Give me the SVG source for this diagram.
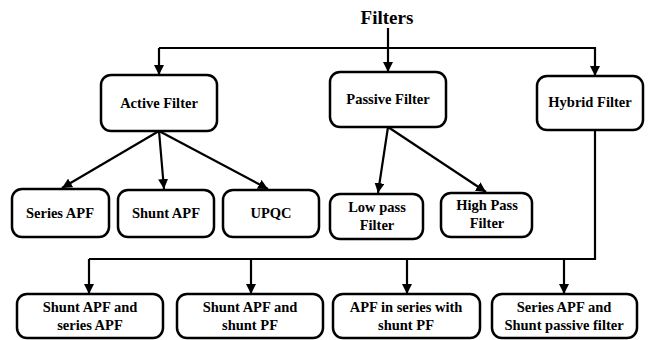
<svg xmlns="http://www.w3.org/2000/svg" width="649" height="340" viewBox="0 0 649 340">
<defs>
<marker id="ah" viewBox="0 0 10 10" refX="10" refY="5" markerWidth="10" markerHeight="10" markerUnits="userSpaceOnUse" orient="auto">
<path d="M0,0 L10,5 L0,10 z" fill="#000"/>
</marker>
<style>
.box{fill:#fff;stroke:#000;stroke-width:2.5}
.t{font-family:"Liberation Serif","Times New Roman",serif;font-weight:bold;font-size:14.5px;fill:#000;text-anchor:middle}
.e{fill:none;stroke:#000;stroke-width:2.2}
.a{marker-end:url(#ah)}
</style>
</defs>
<rect width="649" height="340" fill="#fff"/>
<g id="connectors">
<path class="e a" d="M388,28 V72"/>
<path class="e a" d="M159,48 H595 V76"/>
<path class="e a" d="M159,48 V75"/>
<path class="e a" d="M159,131 L62,188"/>
<path class="e a" d="M159,131 L164,189"/>
<path class="e a" d="M159,131 L268,189"/>
<path class="e a" d="M388,127 L378,193"/>
<path class="e a" d="M388,127 L486,192"/>
<path class="e" d="M595,130 V259 H89"/>
<path class="e a" d="M89,259 V294"/>
<path class="e a" d="M251,259 V294"/>
<path class="e a" d="M407,259 V294"/>
<path class="e a" d="M564,259 V294"/>
</g>
<g id="filters"><text class="t" x="387" y="24" style="font-size:19px">Filters</text></g>
<g id="active"><rect class="box" x="101" y="75" width="116" height="56" rx="10"/><text class="t" x="159" y="108">Active Filter</text></g>
<g id="passive"><rect class="box" x="330" y="72" width="116" height="55" rx="10"/><text class="t" x="388" y="104">Passive Filter</text></g>
<g id="hybrid"><rect class="box" x="537" y="76" width="106" height="54" rx="10"/><text class="t" x="590" y="107">Hybrid Filter</text></g>
<g id="seriesapf"><rect class="box" x="12" y="189" width="97" height="48" rx="10"/><text class="t" x="60" y="218">Series APF</text></g>
<g id="shuntapf"><rect class="box" x="118" y="190" width="96" height="47" rx="10"/><text class="t" x="166" y="218">Shunt APF</text></g>
<g id="upqc"><rect class="box" x="223" y="190" width="96" height="47" rx="10"/><text class="t" x="271" y="218">UPQC</text></g>
<g id="lowpass"><rect class="box" x="330" y="194" width="93" height="45" rx="10"/><text class="t" x="377" y="212">Low pass</text><text class="t" x="377" y="230">Filter</text></g>
<g id="highpass"><rect class="box" x="441" y="193" width="91" height="44" rx="10"/><text class="t" x="487" y="210">High Pass</text><text class="t" x="487" y="228">Filter</text></g>
<g id="b1"><rect class="box" x="17" y="294" width="146" height="44" rx="10"/><text class="t" x="90" y="312">Shunt APF and</text><text class="t" x="90" y="330">series APF</text></g>
<g id="b2"><rect class="box" x="177" y="294" width="146" height="44" rx="10"/><text class="t" x="250" y="312">Shunt APF and</text><text class="t" x="250" y="330">shunt PF</text></g>
<g id="b3"><rect class="box" x="333" y="294" width="147" height="44" rx="10"/><text class="t" x="406" y="312">APF in series with</text><text class="t" x="406" y="330">shunt PF</text></g>
<g id="b4"><rect class="box" x="492" y="294" width="145" height="44" rx="10"/><text class="t" x="564" y="312">Series APF and</text><text class="t" x="564" y="330">Shunt passive filter</text></g>
</svg>
